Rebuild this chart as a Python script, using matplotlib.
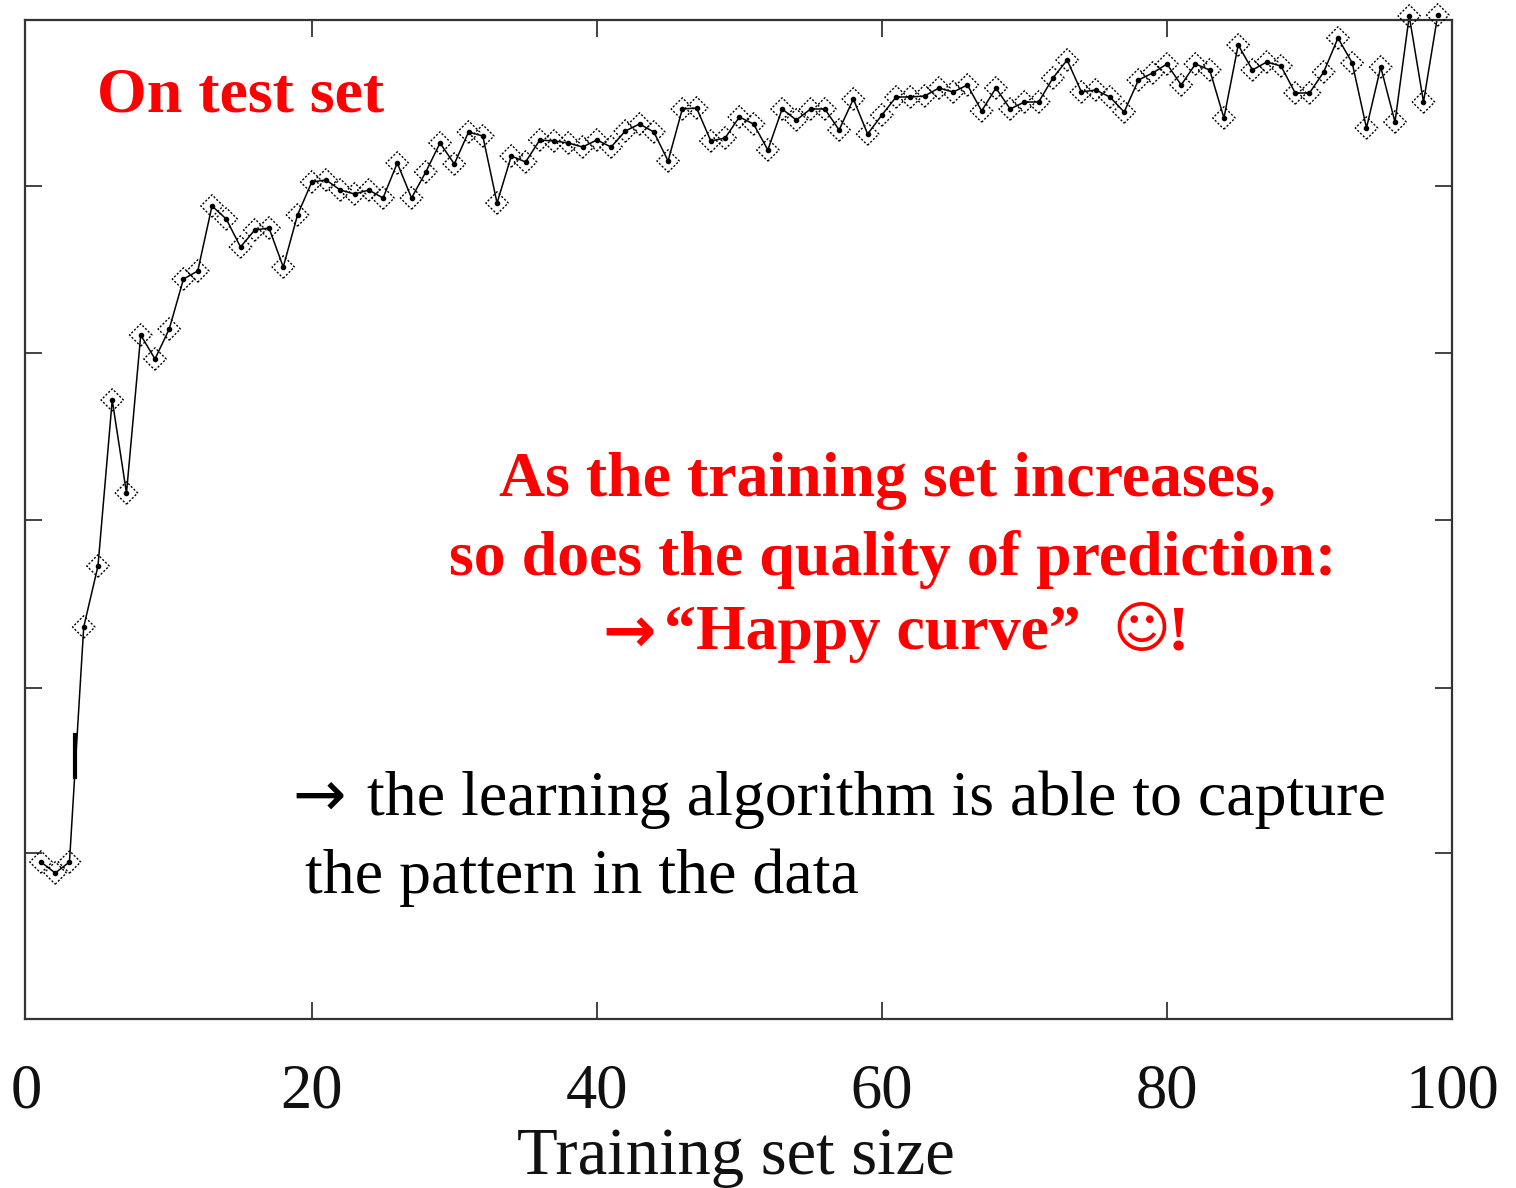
import numpy as np
import matplotlib
matplotlib.use("Agg")
import matplotlib.pyplot as plt

W, H = 1516, 1188

plt.rcParams['font.family'] = ['Liberation Serif', 'DejaVu Sans']

# y has no tick labels in the original, values are height above the axis floor
train_size = np.arange(1, 100)
quality = [157, 146, 157, 392, 453, 619, 526, 684, 660, 690,
           740, 748, 813, 800, 772, 789, 791, 752, 804, 837,
           839, 829, 825, 829, 821, 856, 821, 847, 876, 855,
           887, 883, 816, 863, 857, 879, 878, 876, 872, 879,
           872, 888, 895, 887, 858, 910, 911, 878, 881, 902,
           895, 869, 910, 899, 910, 910, 889, 920, 885, 904,
           922, 922, 923, 931, 927, 934, 908, 931, 910, 917,
           917, 941, 959, 927, 929, 922, 907, 939, 946, 955,
           934, 955, 949, 901, 974, 949, 957, 953, 926, 926,
           947, 981, 956, 891, 952, 897, 1003, 917, 1004]

# the short heavy piece of the rising line
heavy_x = [3.4, 3.4]
heavy_y = [242, 284]

x_ticks = [0, 20, 40, 60, 80, 100]
y_ticks = [166, 331, 499, 666, 833]

fig = plt.figure(figsize=(W / 100, H / 100), dpi=100)
ax = fig.add_axes([25 / W, 1 - 1019 / H, 1427 / W, 999 / H])

ax.plot(train_size, quality, color='black', lw=1.1, zorder=2)
ax.plot(heavy_x, heavy_y, color='black', lw=3.0, zorder=2)
ax.scatter(train_size, quality, marker='D', s=130, facecolors='none', edgecolors='black',
           linewidths=1.0, linestyles=(0, (1.5, 1.3)), clip_on=False, zorder=3)
ax.scatter(train_size, quality, marker='o', s=9, color='black', clip_on=False, zorder=3)

ax.set_xlim(-0.12, 100)
ax.set_ylim(0, 999)
ax.set_xticks(x_ticks)
ax.set_yticks(y_ticks)
ax.set_yticklabels([])
ax.tick_params(axis='both', which='major', direction='in', top=True, right=True,
               length=12, width=1.2, color='#222222')
ax.tick_params(axis='x', labelsize=45, pad=32, labelcolor='#111111')
# the 0 tick sits on the left spine in the original
first_tick = ax.xaxis.get_major_ticks()[0]
first_tick.tick1line.set_visible(False)
first_tick.tick2line.set_visible(False)
for sp in ax.spines.values():
    sp.set_linewidth(1.6)
    sp.set_color('#333333')

def put(x, y, s, **kw):
    # x, y are pixels from the top left of the figure
    return fig.text(x / W, 1 - y / H, s, **kw)

red = dict(fontsize=46, color='red', weight='bold', va='center')
blk = dict(fontsize=46, color='black', va='center')

put(736, 1157, "Training set size", fontsize=48, color='#111111', ha='center', va='center')
put(97, 96, "On test set", ha='left', **red)
put(887, 481, "As the training set increases,", ha='center', **red)
put(893, 559, "so does the quality of prediction:", ha='center', **red)
put(602, 634, "\u2192", ha='left', family='DejaVu Sans', **red)
put(664, 634, "\u201cHappy curve\u201d", ha='left', **red)
put(1112, 632, "\u263a", ha='left', family='DejaVu Sans', fontsize=40, color='red', weight='bold', va='center')
put(1168, 634, "!", ha='left', **red)
put(292, 798, "\u2192", ha='left', family='DejaVu Sans', **blk)
put(367, 800, "the learning algorithm is able to capture", ha='left', **blk)
put(305, 878, "the pattern in the data", ha='left', **blk)

fig.savefig("out.png", dpi=100)
